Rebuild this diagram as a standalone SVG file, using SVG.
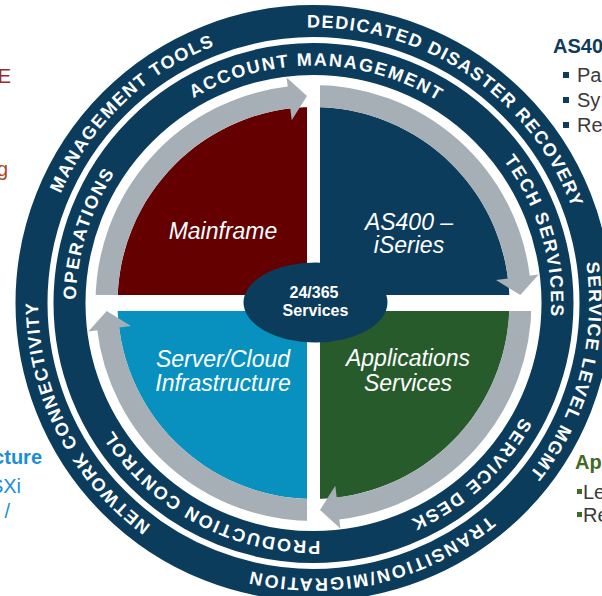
<svg xmlns="http://www.w3.org/2000/svg" width="602" height="596" viewBox="0 0 602 596">
<style>
.band{fill:none;stroke:#0c3c5c;stroke-width:32}
.ring{font-family:"Liberation Sans",Arial,sans-serif;font-weight:bold;font-size:18px;fill:#ffffff;text-anchor:middle}
.outer{letter-spacing:1.4px}
.inner{letter-spacing:1.8px}
.shaft{fill:none;stroke:#a7afb6;stroke-width:22}
.head{fill:#a7afb6}
.gap{fill:#ffffff}
.qlabel{font-family:"Liberation Sans",Arial,sans-serif;font-style:italic;font-size:23px;fill:#ffffff;text-anchor:middle}
.hub{font-family:"Liberation Sans",Arial,sans-serif;font-weight:bold;font-size:16px;fill:#ffffff;text-anchor:middle}
.side{font-family:"Liberation Sans",Arial,sans-serif;font-size:20px}
</style>
<defs>
<path id="pDR" d="M116.4,110.6 A275.5,275.5 0 0 1 564.6,416.4"/>
<path id="pMT" d="M84.4,456.0 A275.5,275.5 0 0 1 476.4,80.8"/>
<path id="pNC" d="M393.1,566.7 A275.5,275.5 0 0 1 148.5,82.4"/>
<path id="pSL" d="M430.4,53.5 A275.5,275.5 0 0 1 289.0,577.4"/>
<path id="pTM" d="M588.6,288.6 A275.5,275.5 0 0 1 59.9,410.6"/>
<path id="pAM" d="M80.2,258.5 A237.5,237.5 0 0 1 547.9,265.0"/>
<path id="pTS" d="M285.8,67.1 A237.5,237.5 0 0 1 420.2,515.2"/>
<path id="pSD" d="M513.8,175.4 A237.5,237.5 0 0 1 168.9,491.4"/>
<path id="pPC" d="M500.1,450.0 A237.5,237.5 0 0 1 87.9,228.8"/>
<path id="pOP" d="M205.3,514.4 A237.5,237.5 0 0 1 342.9,67.3"/>
</defs>
<rect width="602" height="596" fill="#ffffff"/>

<g id="side-text">
<text class="side" x="11" y="83" text-anchor="end" fill="#9c2a1c">E</text>
<text class="side" x="8" y="176" text-anchor="end" fill="#b0481c">g</text>
<text class="side" x="42" y="464" text-anchor="end" fill="#1a8fd6" font-weight="bold" font-size="18">cture</text>
<text class="side" x="21" y="493" text-anchor="end" fill="#1a8fd6" font-size="19">SXi</text>
<text class="side" x="10" y="518" text-anchor="end" fill="#1a8fd6" font-size="19">/</text>
<text class="side" x="553" y="53" fill="#0c3c5c" font-weight="bold" font-size="19">AS40</text>
<rect x="563" y="72" width="6" height="6" fill="#0c3c5c"/>
<rect x="563" y="97" width="6" height="6" fill="#0c3c5c"/>
<rect x="563" y="122" width="6" height="6" fill="#0c3c5c"/>
<text class="side" x="577" y="82" fill="#3a3a3a">Pa</text>
<text class="side" x="577" y="107" fill="#3a3a3a">Sy</text>
<text class="side" x="577" y="132" fill="#3a3a3a">Re</text>
<text class="side" x="575" y="469" fill="#3f6b22" font-weight="bold" font-size="19">App</text>
<rect x="577" y="489" width="5" height="5" fill="#3f6b22"/>
<rect x="577" y="512" width="5" height="5" fill="#3f6b22"/>
<text class="side" x="583" y="499" fill="#3a3a3a" font-size="19">Le</text>
<text class="side" x="583" y="522" fill="#3a3a3a" font-size="19">Re</text>
</g>

<g id="outer-ring">
<circle class="band" cx="313.5" cy="303" r="282"/>
<text class="ring outer"><textPath href="#pDR" startOffset="50%">DEDICATED DISASTER RECOVERY</textPath></text>
<text class="ring outer"><textPath href="#pMT" startOffset="50%">MANAGEMENT TOOLS</textPath></text>
<text class="ring outer"><textPath href="#pNC" startOffset="50%">NETWORK CONNECTIVITY</textPath></text>
<text class="ring outer"><textPath href="#pSL" startOffset="50%">SERVICE LEVEL MGMT</textPath></text>
<text class="ring outer" style="letter-spacing:1.9px"><textPath href="#pTM" startOffset="50%">TRANSITION/MIGRATION</textPath></text>
</g>

<g id="inner-ring">
<circle class="band" cx="313.5" cy="303" r="244"/>
<text class="ring inner"><textPath href="#pAM" startOffset="50%">ACCOUNT MANAGEMENT</textPath></text>
<text class="ring inner"><textPath href="#pTS" startOffset="50%">TECH SERVICES</textPath></text>
<text class="ring inner"><textPath href="#pSD" startOffset="50%">SERVICE DESK</textPath></text>
<text class="ring inner"><textPath href="#pPC" startOffset="50%">PRODUCTION CONTROL</textPath></text>
<text class="ring inner"><textPath href="#pOP" startOffset="50%">OPERATIONS</textPath></text>
</g>

<g id="mainframe">
<path d="M313.5,303 L117.5,303 A196,196 0 0 1 313.5,107 Z" fill="#650000"/>
</g>
<g id="as400">
<path d="M313.5,303 L313.5,107 A196,196 0 0 1 509.5,303 Z" fill="#0c3c5c"/>
</g>
<g id="applications">
<path d="M313.5,303 L509.5,303 A196,196 0 0 1 313.5,499 Z" fill="#275b2c"/>
</g>
<g id="server-cloud">
<path d="M313.5,303 L313.5,499 A196,196 0 0 1 117.5,303 Z" fill="#0891be"/>
</g>

<g id="connectors">
<path class="shaft" d="M106.5,303 A207,207 0 0 1 290.8,97.2"/>
<path class="shaft" d="M313.5,96 A207,207 0 0 1 519.1,278.8"/>
<path class="shaft" d="M520.5,303 A207,207 0 0 1 336.2,508.8"/>
<path class="shaft" d="M313.5,510 A207,207 0 0 1 107.9,327.2"/>
<rect class="gap" x="307" y="77" width="13" height="452"/>
<rect class="gap" x="88" y="295" width="451" height="16"/>
<polygon class="head" points="291.7,120.3 286.6,77.6 307.0,96.1"/>
<polygon class="head" points="496.0,279.9 538.7,274.5 520.3,295.1"/>
<polygon class="head" points="335.3,485.7 340.4,528.4 320.0,509.9"/>
<polygon class="head" points="131.0,326.1 88.3,331.5 106.7,310.9"/>
</g>

<g id="labels">
<text class="qlabel" x="223" y="239">Mainframe</text>
<text class="qlabel" x="409" y="230">AS400 –</text>
<text class="qlabel" x="409" y="253">iSeries</text>
<text class="qlabel" x="223" y="367">Server/Cloud</text>
<text class="qlabel" x="223" y="391">Infrastructure</text>
<text class="qlabel" x="408" y="366">Applications</text>
<text class="qlabel" x="408" y="391">Services</text>
</g>

<g id="hub">
<ellipse cx="315.5" cy="302.5" rx="72" ry="40" fill="#0c3c5c"/>
<text class="hub" x="314" y="298">24/365</text>
<text class="hub" x="315.5" y="316">Services</text>
</g>
</svg>
